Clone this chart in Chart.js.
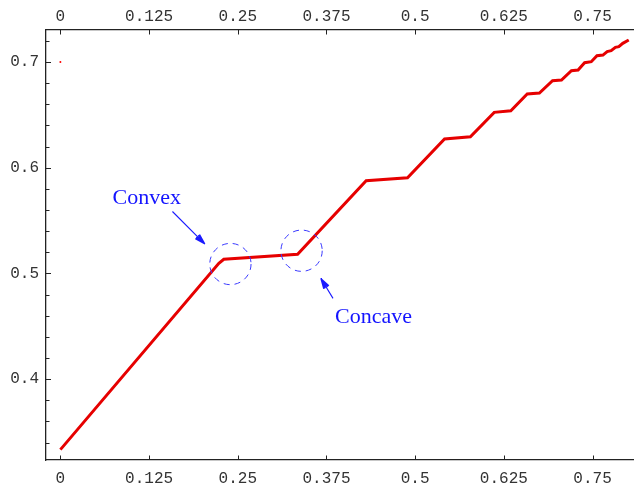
<!DOCTYPE html>
<html>
<head>
<meta charset="utf-8">
<script src="https://cdn.jsdelivr.net/npm/chart.js@4.4.1/dist/chart.umd.min.js"></script>
<style>
html,body{margin:0;padding:0;background:#fff;}
#wrap{width:637px;height:486px;position:relative;}
</style>
</head>
<body>
<div id="wrap"><canvas id="c"></canvas></div>
<script>
// ---- data ----
const curveX = [0, 0.2233, 0.2303, 0.3343, 0.4309, 0.4892, 0.5414, 0.5778, 0.6114, 0.6348, 0.6579, 0.6751, 0.6936, 0.7062, 0.7202, 0.7296, 0.7388, 0.7482, 0.7562, 0.7646, 0.7706, 0.7762, 0.7822, 0.7870, 0.7926, 0.8010];
const curveY = [0.3333, 0.5096, 0.5134, 0.5181, 0.5877, 0.5905, 0.6272, 0.6293, 0.6524, 0.6539, 0.6697, 0.6707, 0.6823, 0.6830, 0.6918, 0.6924, 0.6993, 0.7003, 0.7060, 0.7066, 0.7099, 0.7107, 0.7139, 0.7145, 0.7177, 0.7208];
const strayPoint = [{x: 0, y: 0.7}];
const xTickValues = [0, 0.125, 0.25, 0.375, 0.5, 0.625, 0.75];
const xTickLabels = ['0', '0.125', '0.25', '0.375', '0.5', '0.625', '0.75'];
const yMajorValues = [0.4, 0.5, 0.6, 0.7];
const yMajorLabels = ['0.4', '0.5', '0.6', '0.7'];
const xRange = [-0.0203, 0.807];
const yRange = [0.3235, 0.7303];
// annotations (data coordinates)
const circleCenters = [[0.2396, 0.5089], [0.3399, 0.5215]];
const circleRadiusX = 0.0291;
const arrowStarts = [[0.1579, 0.5586], [0.3842, 0.4764]];
const arrowEnds = [[0.2037, 0.5278], [0.3670, 0.4954]];
const noteTexts = ['Convex', 'Concave'];
const notePos = [[0.0735, 0.5713], [0.3870, 0.4588]];

const points = curveX.map((x, i) => ({x, y: curveY[i]}));
const tickFont = {family: '"Liberation Mono", "DejaVu Sans Mono", monospace', size: 16};
const tickColor = '#333';
const axisColor = '#222';

function xLabel(v) {
  const i = xTickValues.findIndex(t => Math.abs(t - v) < 1e-6);
  return i >= 0 ? xTickLabels[i] : '';
}
function yLabel(v) {
  const i = yMajorValues.findIndex(t => Math.abs(t - v) < 1e-6);
  return i >= 0 ? yMajorLabels[i] : '';
}

const decor = {
  id: 'decor',
  afterDatasetsDraw(chart) {
    const ctx = chart.ctx;
    const xs = chart.scales.x, xt = chart.scales.x2, ys = chart.scales.y;
    const area = chart.chartArea;
    ctx.save();
    // inward ticks
    ctx.strokeStyle = axisColor;
    ctx.lineWidth = 1;
    ctx.beginPath();
    xs.ticks.forEach(t => {
      const px = Math.round(xs.getPixelForValue(t.value)) + 0.5;
      ctx.moveTo(px, area.bottom); ctx.lineTo(px, area.bottom - 4.5);
    });
    xt.ticks.forEach(t => {
      const px = Math.round(xt.getPixelForValue(t.value)) + 0.5;
      ctx.moveTo(px, area.top); ctx.lineTo(px, area.top + 4.5);
    });
    ys.ticks.forEach(t => {
      const py = Math.round(ys.getPixelForValue(t.value)) + 0.5;
      const major = yLabel(t.value) !== '';
      ctx.moveTo(area.left, py); ctx.lineTo(area.left + (major ? 5 : 3.5), py);
    });
    ctx.stroke();

    // dashed circles
    ctx.strokeStyle = '#3a3aff';
    ctx.lineWidth = 1;
    ctx.setLineDash([6, 5]);
    circleCenters.forEach(c => {
      const cx = xs.getPixelForValue(c[0]);
      const cy = ys.getPixelForValue(c[1]);
      const r = xs.getPixelForValue(c[0] + circleRadiusX) - cx;
      ctx.beginPath();
      ctx.arc(cx, cy, r, 0, Math.PI * 2);
      ctx.stroke();
    });
    ctx.setLineDash([]);

    // arrows
    ctx.strokeStyle = '#1a1aff';
    ctx.lineWidth = 1.1;
    arrowStarts.forEach((s, i) => {
      const e = arrowEnds[i];
      const x1 = xs.getPixelForValue(s[0]), y1 = ys.getPixelForValue(s[1]);
      const x2 = xs.getPixelForValue(e[0]), y2 = ys.getPixelForValue(e[1]);
      const ang = Math.atan2(y2 - y1, x2 - x1);
      ctx.beginPath();
      ctx.moveTo(x1, y1); ctx.lineTo(x2, y2);
      const len = 11;
      [-0.28, -0.2, -0.12, 0.12, 0.2, 0.28].forEach(d => {
        ctx.moveTo(x2, y2);
        ctx.lineTo(x2 - len * Math.cos(ang + d), y2 - len * Math.sin(ang + d));
      });
      ctx.stroke();
    });

    // texts
    ctx.fillStyle = '#1414ff';
    ctx.font = '22px "Liberation Serif", "Times New Roman", serif';
    ctx.textAlign = 'left';
    ctx.textBaseline = 'middle';
    noteTexts.forEach((t, i) => {
      ctx.fillText(t, xs.getPixelForValue(notePos[i][0]), ys.getPixelForValue(notePos[i][1]));
    });
    ctx.restore();
  }
};

new Chart(document.getElementById('c'), {
  type: 'scatter',
  data: {
    datasets: [
      {
        data: points,
        showLine: true,
        borderColor: '#e60000',
        borderWidth: 3,
        pointRadius: 0,
        tension: 0,
        borderJoinStyle: 'miter',
        xAxisID: 'x', yAxisID: 'y'
      },
      {
        data: strayPoint,
        showLine: false,
        pointRadius: 1,
        pointBorderWidth: 0,
        backgroundColor: '#ff0000',
        borderColor: '#ff0000',
        xAxisID: 'x', yAxisID: 'y'
      }
    ]
  },
  options: {
    responsive: true,
    maintainAspectRatio: false,
    animation: false,
    layout: {padding: 0},
    plugins: {legend: {display: false}, tooltip: {enabled: false}},
    scales: {
      x: {
        type: 'linear', position: 'bottom',
        min: xRange[0], max: xRange[1],
        grid: {display: false, drawTicks: false},
        border: {display: true, color: axisColor, width: 1.3},
        ticks: {stepSize: 0.125, includeBounds: false, maxRotation: 0, autoSkip: false,
          font: tickFont, color: tickColor, padding: 9, callback: v => xLabel(v)},
        afterFit: s => { s.height = 26; }
      },
      x2: {
        type: 'linear', position: 'top',
        min: xRange[0], max: xRange[1],
        grid: {display: false, drawTicks: false},
        border: {display: true, color: axisColor, width: 1.3},
        ticks: {stepSize: 0.125, includeBounds: false, maxRotation: 0, autoSkip: false,
          font: tickFont, color: tickColor, padding: 4, callback: v => xLabel(v)},
        afterFit: s => { s.height = 30; }
      },
      y: {
        type: 'linear', position: 'left',
        min: yRange[0], max: yRange[1],
        grid: {display: false, drawTicks: false},
        border: {display: true, color: axisColor, width: 1.3},
        ticks: {stepSize: 0.02, includeBounds: false, autoSkip: false,
          font: tickFont, color: tickColor, padding: 7, callback: v => yLabel(v)},
        afterFit: s => { s.height; s.width = 46; }
      }
    }
  },
  plugins: [decor]
});
</script>
</body>
</html>
